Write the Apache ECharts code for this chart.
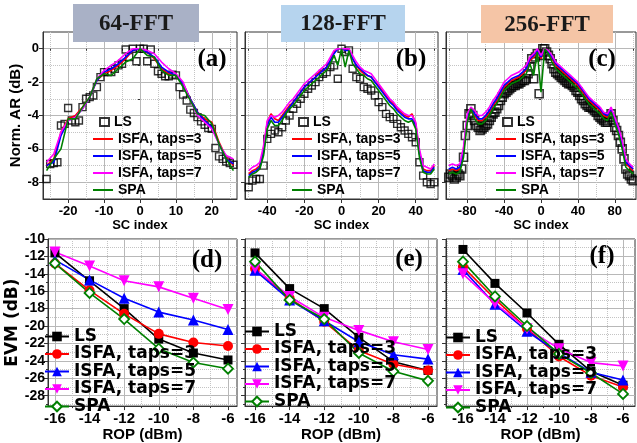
<!DOCTYPE html>
<html>
<head>
<meta charset="utf-8">
<script src="https://cdn.jsdelivr.net/npm/echarts@6/dist/echarts.min.js"></script>
<style>
html,body{margin:0;padding:0;background:#fff;}
#chart{width:637px;height:443px;}
</style>
</head>
<body>
<div id="chart"></div>
<script>
// ---- data ----
var names = ['LS', 'ISFA, taps=3', 'ISFA, taps=5', 'ISFA, taps=7', 'SPA'];
var colors = ['#000000', '#ff0000', '#0000ff', '#ff00ff', '#008000'];
var panelTitles = ['64-FFT', '128-FFT', '256-FFT'];
var panelLetters = ['(a)', '(b)', '(c)', '(d)', '(e)', '(f)'];

// tick labels
var scTicksA = [-20, -10, 0, 10, 20];
var scMinorA = [-25, -15, -5, 5, 15, 25];
var scTicksB = [-40, -20, 0, 20, 40];
var scMinorB = [-50, -30, -10, 10, 30, 50];
var scTicksC = [-80, -40, 0, 40, 80];
var scMinorC = [-100, -60, -20, 20, 60, 100];
var arTicks = [-8, -6, -4, -2, 0];
var arMinor = [-7, -5, -3, -1];
var ropTicks = [-16, -14, -12, -10, -8, -6];
var ropMinor = [-17, -15, -13, -11, -9, -7];
var evmTicks = [-28, -26, -24, -22, -20, -18, -16, -14, -12, -10];
var evmMinor = [-29, -27, -25, -23, -21, -19, -17, -15, -13, -11];

// 64-FFT, subcarrier index -26..26 (LS every SC, lines every 2nd SC)
var ls64 = [-7.8, -6.9, -6.85, -6.8, -4.6, -4.5, -3.55, -4.3, -4.4, -4.3, -3.5, -3.0, -2.9, -2.8, -2.3, -1.7, -1.4, -1.4, -1.4, -1.2, -1.0, -0.9, -0.05, -0.5, 0.0, -0.75, 0.0,
            0.0, -0.75, -0.05, -0.9, -1.35, -1.5, -1.65, -1.65, -1.55, -1.6, -2.3, -2.75, -3.1, -3.65, -3.85, -4.1, -4.35, -4.55, -4.75, -4.8, -5.95, -6.45, -6.6, -6.75, -6.85, -6.95];
var isfa3_64 = [-7.0, -6.6, -5.0, -4.2, -4.0, -3.5, -2.9, -1.9, -1.5, -1.3, -1.0, -0.6, -0.1, 0.0, -0.2, -0.6, -1.2, -1.5, -1.6, -2.1, -3.0, -3.8, -4.2, -4.4, -5.6, -6.5, -7.0];
var isfa5_64 = [-7.0, -6.8, -5.2, -4.3, -4.1, -3.6, -2.9, -1.9, -1.4, -1.2, -0.9, -0.5, -0.1, 0.0, -0.2, -0.5, -1.1, -1.4, -1.6, -2.1, -3.0, -3.8, -4.3, -4.7, -5.7, -6.6, -6.9];
var isfa7_64 = [-6.8, -6.3, -5.0, -4.3, -4.1, -3.6, -2.9, -1.8, -1.3, -1.0, -0.7, -0.3, 0.0, 0.0, -0.1, -0.3, -0.8, -1.2, -1.5, -2.0, -3.1, -4.0, -4.4, -4.8, -5.7, -6.4, -6.6];
var spa64 = [-7.3, -6.6, -6.0, -4.2, -4.2, -3.5, -2.9, -1.8, -1.5, -1.6, -1.2, -0.8, -0.6, 0.0, -0.4, -0.5, -1.3, -1.6, -1.6, -2.3, -3.1, -3.9, -4.0, -4.5, -5.7, -6.6, -7.3];

// 128-FFT, subcarrier index -50..50 step 2
var ls128 = [-8.3, -7.9, -7.8, -7.8, -7.0, -5.4, -5.1, -4.9, -5.0, -4.7, -4.3, -4.0, -3.6, -3.3, -3.0, -2.7, -2.4, -2.2, -2.0, -1.7, -1.5, -1.4, -1.1, -1.0, -1.8, 0.0,
             -0.2, -0.1, -1.2, -1.7, -1.8, -2.3, -2.4, -2.5, -2.8, -3.2, -3.5, -3.9, -4.1, -4.2, -4.5, -4.7, -4.9, -5.1, -5.3, -5.6, -6.8, -7.6, -8.0, -8.1, -8.0];
var isfa3_128 = [-7.5, -7.3, -7.2, -7.0, -6.0, -4.4, -3.9, -4.2, -4.3, -4.0, -3.7, -3.4, -3.2, -2.9, -2.6, -2.3, -2.1, -1.9, -1.7, -1.4, -1.3, -1.1, -0.7, -0.2, 0.0, 0.0,
                 -0.1, 0.0, -0.6, -1.0, -1.3, -1.5, -1.6, -1.7, -2.0, -2.2, -2.5, -2.8, -3.1, -3.3, -3.6, -3.8, -4.0, -4.1, -3.9, -4.5, -6.2, -7.2, -7.3, -7.3, -7.0];
var isfa5_128 = [-7.6, -7.4, -7.3, -7.1, -6.2, -4.6, -4.1, -4.4, -4.4, -4.1, -3.8, -3.5, -3.2, -2.9, -2.6, -2.3, -2.1, -1.9, -1.7, -1.5, -1.3, -1.1, -0.7, -0.3, 0.0, 0.0,
                 -0.1, -0.1, -0.6, -1.0, -1.2, -1.4, -1.6, -1.7, -2.0, -2.3, -2.6, -2.9, -3.2, -3.4, -3.7, -3.9, -4.1, -4.2, -4.2, -4.6, -6.3, -7.3, -7.4, -7.4, -7.1];
var isfa7_128 = [-7.3, -7.1, -7.0, -6.8, -5.8, -4.3, -4.0, -4.1, -4.0, -3.8, -3.5, -3.2, -3.0, -2.7, -2.4, -2.1, -1.9, -1.7, -1.5, -1.3, -1.1, -0.9, -0.5, -0.1, 0.0, 0.0,
                 0.0, 0.0, -0.4, -0.8, -1.1, -1.3, -1.4, -1.5, -1.8, -2.1, -2.4, -2.7, -3.0, -3.2, -3.5, -3.7, -3.9, -4.0, -4.0, -4.4, -6.0, -7.0, -7.1, -7.2, -6.9];
var spa128 = [-7.7, -7.5, -7.4, -7.2, -6.4, -4.8, -4.3, -4.6, -4.6, -4.3, -3.9, -3.6, -3.4, -3.1, -2.8, -2.5, -2.3, -2.1, -1.9, -1.7, -1.5, -1.3, -0.9, -0.4, -1.0, 0.0,
              -1.1, -0.1, -0.9, -1.2, -1.5, -1.6, -1.8, -1.9, -2.2, -2.5, -2.8, -3.1, -3.4, -3.6, -3.9, -4.1, -4.3, -4.4, -4.3, -4.8, -6.5, -7.4, -7.5, -7.5, -7.2];

// 256-FFT: LS at subcarrier index -100..100 step 2, lines step 4
var ls256 = [-7.7, -7.5, -7.6, -7.8, -7.7, -7.5, -7.6, -7.2, -6.5, -5.2, -4.6, -3.9, -3.6, -4.0, -4.3, -4.6, -4.7, -4.9, -4.8, -4.7,
             -4.6, -4.5, -4.3, -4.1, -3.9, -3.8, -3.6, -3.4, -3.1, -2.9, -2.7, -2.6, -2.5, -2.4, -2.3, -2.2, -2.2, -2.1, -2.1, -2.0,
             -1.9, -1.9, -1.8, -1.5, -1.1, -0.6, -1.8, -0.5, -0.3, -2.7, -0.4,
             0.0, 0.0, -0.2, -0.4, -0.6, -0.9, -1.2, -1.4, -1.5, -1.6, -1.7, -1.8, -1.9, -2.0, -2.1, -2.1, -2.2, -2.3, -2.5,
             -2.6, -2.8, -3.0, -3.1, -3.3, -3.4, -3.5, -3.5, -3.6, -3.7, -3.8, -4.0, -4.1, -4.2, -4.3, -4.4, -4.4, -4.1, -3.9, -4.3,
             -4.7, -4.9, -5.2, -5.6, -6.0, -6.6, -7.2, -7.5, -7.6, -7.8, -7.9];
var isfa3_256 = [-7.3, -7.2, -7.3, -7.2, -6.2, -4.2, -3.7, -4.0, -4.3, -4.3, -4.1, -3.8, -3.4, -3.1, -2.7, -2.3, -2.1, -1.9, -1.8, -1.7, -1.5, -1.3, -0.7, -0.5, -0.1, -0.6,
                 0.0, -0.2, -0.6, -1.0, -1.2, -1.4, -1.6, -1.8, -2.0, -2.2, -2.5, -2.8, -3.1, -3.3, -3.5, -3.7, -4.0, -4.1, -3.7, -4.3, -4.9, -5.8, -6.9, -7.1, -7.3];
var isfa5_256 = [-7.2, -7.1, -7.2, -7.1, -6.1, -4.1, -3.6, -3.9, -4.2, -4.2, -4.0, -3.7, -3.3, -3.0, -2.6, -2.2, -2.0, -1.8, -1.7, -1.6, -1.4, -1.2, -0.6, -0.4, -0.1, -0.5,
                 0.0, -0.2, -0.5, -0.9, -1.1, -1.3, -1.5, -1.7, -1.9, -2.1, -2.4, -2.7, -3.0, -3.2, -3.4, -3.6, -3.9, -4.0, -3.6, -4.2, -4.8, -5.7, -6.8, -7.0, -7.2];
var isfa7_256 = [-7.0, -6.9, -7.0, -6.9, -5.9, -3.9, -3.5, -3.7, -4.0, -4.0, -3.8, -3.5, -3.1, -2.8, -2.4, -2.0, -1.8, -1.6, -1.5, -1.4, -1.2, -1.0, -0.5, -0.3, 0.0, -0.4,
                 0.0, -0.1, -0.4, -0.8, -1.0, -1.2, -1.4, -1.6, -1.8, -2.0, -2.3, -2.6, -2.9, -3.1, -3.3, -3.5, -3.8, -3.9, -3.5, -4.1, -4.7, -5.5, -6.6, -6.9, -7.1];
var spa256 = [-7.5, -7.4, -7.5, -7.4, -6.5, -4.4, -3.6, -4.2, -4.5, -4.5, -4.3, -4.0, -3.6, -3.3, -2.9, -2.5, -2.3, -2.1, -2.0, -1.9, -1.7, -1.5, -0.9, -1.6, -0.2, -2.6,
              0.0, -0.3, -0.8, -1.2, -1.4, -1.6, -1.8, -2.0, -2.2, -2.4, -2.7, -3.0, -3.3, -3.5, -3.7, -3.9, -4.2, -4.3, -3.8, -4.5, -5.1, -6.0, -7.1, -7.3, -7.5];

// EVM vs ROP
var rop = [-16, -14, -12, -10, -8, -6];
var evm64 = [
    [-11.6, -14.8, -18.0, -21.5, -23.1, -23.9],
    [-12.8, -15.9, -18.6, -20.9, -21.9, -22.3],
    [-12.4, -14.7, -16.8, -18.4, -19.3, -20.4],
    [-11.5, -13.1, -14.8, -15.5, -16.8, -18.1],
    [-12.8, -16.2, -19.2, -22.6, -24.2, -24.9]
];
var evm128 = [
    [-11.6, -15.7, -18.0, -21.3, -24.1, -25.1],
    [-13.4, -16.8, -19.5, -22.8, -24.4, -25.1],
    [-13.6, -17.0, -19.4, -21.8, -23.3, -23.8],
    [-13.4, -16.6, -19.0, -20.5, -21.8, -22.7],
    [-12.6, -17.0, -19.2, -23.1, -25.2, -26.3]
];
var evm256 = [
    [-11.2, -15.1, -18.5, -22.1, -25.2, -26.8],
    [-13.2, -16.9, -20.3, -23.5, -25.7, -27.0],
    [-13.5, -17.5, -20.6, -23.1, -25.3, -26.2],
    [-14.0, -17.4, -20.3, -22.6, -24.2, -24.6],
    [-12.6, -16.6, -20.0, -23.2, -25.4, -27.8]
];

// ---- helpers ----
function steps(a, b, s) {
    var r = [];
    for (var v = a; v <= b; v += s) r.push(v);
    return r;
}
function zip(xs, ys) {
    var r = [];
    for (var i = 0; i < ys.length; i++) r.push([xs[i], ys[i]]);
    return r;
}
function inRange(arr, min, max) {
    return arr.filter(function (v) { return v > min && v < max; });
}

var sc64 = steps(-26, 26, 1), sc64l = steps(-26, 26, 2);
var sc128 = steps(-50, 50, 2);
var sc256 = steps(-100, 100, 2), sc256l = steps(-100, 100, 4);

var FONT = '"Liberation Sans", Arial, sans-serif';
var grids = [
    {left: 43, top: 32, width: 194, height: 167},
    {left: 245, top: 32, width: 193, height: 167},
    {left: 446, top: 32, width: 190, height: 167},
    {left: 48, top: 239, width: 189, height: 168},
    {left: 245, top: 239, width: 192, height: 168},
    {left: 446, top: 239, width: 189, height: 168}
];
grids.forEach(function (g) { g.show = true; g.borderColor = '#333'; g.borderWidth = 1; g.backgroundColor = '#fff'; });

var xAxes = [], yAxes = [];
// main axis + a second one for the dotted minor grid
function addAxes(list, dim, g, min, max, major, minor, labelCfg, nameCfg) {
    var pos = dim === 'x' ? 'bottom' : 'left';
    var main = {
        type: 'value', gridIndex: g, min: min, max: max, position: pos,
        axisLine: {show: true, onZero: false, lineStyle: {color: '#333', width: 1}},
        axisTick: {show: true, length: 4, customValues: major, lineStyle: {color: '#333'}},
        axisLabel: labelCfg ? Object.assign({show: true, customValues: major, color: '#000', fontWeight: 'bold', fontFamily: FONT}, labelCfg) : {show: false},
        splitLine: {show: true, lineStyle: {color: '#b8b8b8', width: 1}}
    };
    if (nameCfg) {
        main.name = nameCfg.text;
        main.nameLocation = 'middle';
        main.nameGap = nameCfg.gap;
        main.nameTextStyle = {color: '#000', fontWeight: 'bold', fontSize: nameCfg.size, fontFamily: nameCfg.font || FONT};
    }
    var mnr = {
        type: 'value', gridIndex: g, min: min, max: max, position: pos,
        axisLine: {show: false},
        axisTick: {show: true, length: 2, customValues: inRange(minor, min, max), lineStyle: {color: '#333'}},
        axisLabel: {show: false},
        splitLine: {show: true, lineStyle: {color: '#c4c4c4', width: 1, type: 'dotted'}}
    };
    list.push(main);
    list.push(mnr);
}

var topX = [[-27, 27, scTicksA, scMinorA], [-52, 52, scTicksB, scMinorB], [-103, 103, scTicksC, scMinorC]];
var botX = [[-16.4, -5.48], [-16.58, -5.48], [-17.06, -5.25]];
for (var i = 0; i < 3; i++) {
    addAxes(xAxes, 'x', i, topX[i][0], topX[i][1], topX[i][2], topX[i][3], {fontSize: 13, margin: 6},
        {text: 'SC index', gap: 15, size: 13});
    addAxes(yAxes, 'y', i, -9, 1, arTicks, arMinor, i === 0 ? {fontSize: 13, margin: 4} : null,
        i === 0 ? {text: 'Norm. AR (dB)', gap: 19, size: 15} : null);
}
for (var j = 0; j < 3; j++) {
    addAxes(xAxes, 'x', 3 + j, botX[j][0], botX[j][1], ropTicks, ropMinor, {fontSize: 15, margin: 5},
        {text: 'ROP (dBm)', gap: 19, size: 15});
    addAxes(yAxes, 'y', 3 + j, -29.2, -10, evmTicks, evmMinor, j === 0 ? {fontSize: 14, margin: 3} : null,
        j === 0 ? {text: 'EVM (dB)', gap: 25, size: 17, font: '"DejaVu Sans", sans-serif'} : null);
}

// ---- series ----
var series = [];
var arData = [
    {ls: zip(sc64, ls64), lx: sc64l, lines: [isfa3_64, isfa5_64, isfa7_64, spa64]},
    {ls: zip(sc128, ls128), lx: sc128, lines: [isfa3_128, isfa5_128, isfa7_128, spa128]},
    {ls: zip(sc256, ls256), lx: sc256l, lines: [isfa3_256, isfa5_256, isfa7_256, spa256]}
];
arData.forEach(function (d, p) {
    var tag = '#' + p;
    series.push({
        name: names[0] + tag, type: 'scatter', xAxisIndex: 2 * p, yAxisIndex: 2 * p,
        symbol: 'rect', symbolSize: p === 2 ? 8 : 7, symbolKeepAspect: true,
        itemStyle: {color: 'rgba(255,255,255,0)', borderColor: '#000', borderWidth: p === 2 ? 1.6 : 1.4},
        data: d.ls
    });
    d.lines.forEach(function (vals, k) {
        series.push({
            name: names[k + 1] + tag, type: 'line', xAxisIndex: 2 * p, yAxisIndex: 2 * p,
            symbol: 'none', color: colors[k + 1],
            lineStyle: {color: colors[k + 1], width: 1.6},
            data: zip(d.lx, vals)
        });
    });
});

var symbols = ['rect', 'circle', 'triangle', 'triangle', 'diamond'];
var symRot = [0, 0, 0, 180, 0];
var symSize = [9, 10, 11, 11, 10];
[evm64, evm128, evm256].forEach(function (set, p) {
    var tag = '#' + (p + 3);
    set.forEach(function (vals, k) {
        var hollow = k === 4;
        series.push({
            name: names[k] + tag, type: 'line', xAxisIndex: 2 * (p + 3), yAxisIndex: 2 * (p + 3),
            symbol: symbols[k], symbolRotate: symRot[k], symbolSize: symSize[k],
            color: colors[k],
            lineStyle: {color: colors[k], width: 1.6},
            itemStyle: hollow ? {color: '#fff', borderColor: colors[k], borderWidth: 1.8} : {color: colors[k]},
            data: zip(rop, vals)
        });
    });
});

// ---- legends ----
function stripTag(n) { return n.split('#')[0]; }
var legendFont = {color: '#000', fontWeight: 'bold', fontSize: 14, lineHeight: 14, fontFamily: FONT};
var legends = [];
var topLegendLeft = [92, 291, 495];
topLegendLeft.forEach(function (l, p) {
    // LS: small square icon
    legends.push({
        orient: 'vertical', left: l + 7, top: 115, padding: 0,
        itemWidth: 9, itemHeight: 8, formatter: stripTag, selectedMode: false,
        textStyle: legendFont,
        data: [names[0] + '#' + p]
    });
    legends.push({
        orient: 'vertical', left: l, top: 132, padding: 0, itemGap: 3,
        itemWidth: 20, itemHeight: 8, formatter: stripTag, selectedMode: false,
        textStyle: legendFont,
        data: names.slice(1).map(function (n) {
            return {name: n + '#' + p, itemStyle: {opacity: 0}};   // plain line icon
        })
    });
});
var botLegend = [[44, 328], [244, 323], [445, 329]];
botLegend.forEach(function (pos, p) {
    legends.push({
        orient: 'vertical', left: pos[0], top: pos[1], padding: 0, itemGap: 0.5,
        itemWidth: 24, itemHeight: 12, formatter: stripTag, selectedMode: false,
        textStyle: {color: '#000', fontWeight: 'bold', fontSize: 17, lineHeight: 17, fontFamily: '"DejaVu Sans", sans-serif'},
        data: names.map(function (n) { return n + '#' + (p + 3); })
    });
});

// ---- title boxes and panel letters ----
var boxes = [
    {x: 73, y: 4, w: 126, h: 38, fill: '#a9b1c6'},
    {x: 281, y: 5, w: 124, h: 37, fill: '#b6d4ee'},
    {x: 481, y: 5, w: 132, h: 38, fill: '#f5c5a6'}
];
var letterPos = [[212, 60], [411, 60], [602, 60], [207, 261], [409, 260], [602, 257]];
var graphics = [];
boxes.forEach(function (b, i) {
    graphics.push({type: 'rect', z: 100, shape: {x: b.x, y: b.y, width: b.w, height: b.h}, style: {fill: b.fill}});
    graphics.push({type: 'text', z: 101, x: b.x + b.w / 2, y: b.y + b.h / 2 + 1,
        style: {text: panelTitles[i], fill: '#1a1a1a', font: 'bold 23px "Liberation Serif", serif', textAlign: 'center', textVerticalAlign: 'middle'}});
});
letterPos.forEach(function (pt, i) {
    graphics.push({type: 'text', z: 101, x: pt[0], y: pt[1],
        style: {text: panelLetters[i], fill: '#000', font: 'bold 25px "Liberation Serif", serif', textAlign: 'center', textVerticalAlign: 'middle'}});
});

var myChart = echarts.init(document.getElementById('chart'), null, {renderer: 'canvas'});
var option = {
    animation: false,
    backgroundColor: '#fff',
    textStyle: {fontFamily: FONT},
    grid: grids,
    xAxis: xAxes,
    yAxis: yAxes,
    legend: legends,
    series: series,
    graphic: graphics
};
myChart.setOption(option, true);
</script>
</body>
</html>
